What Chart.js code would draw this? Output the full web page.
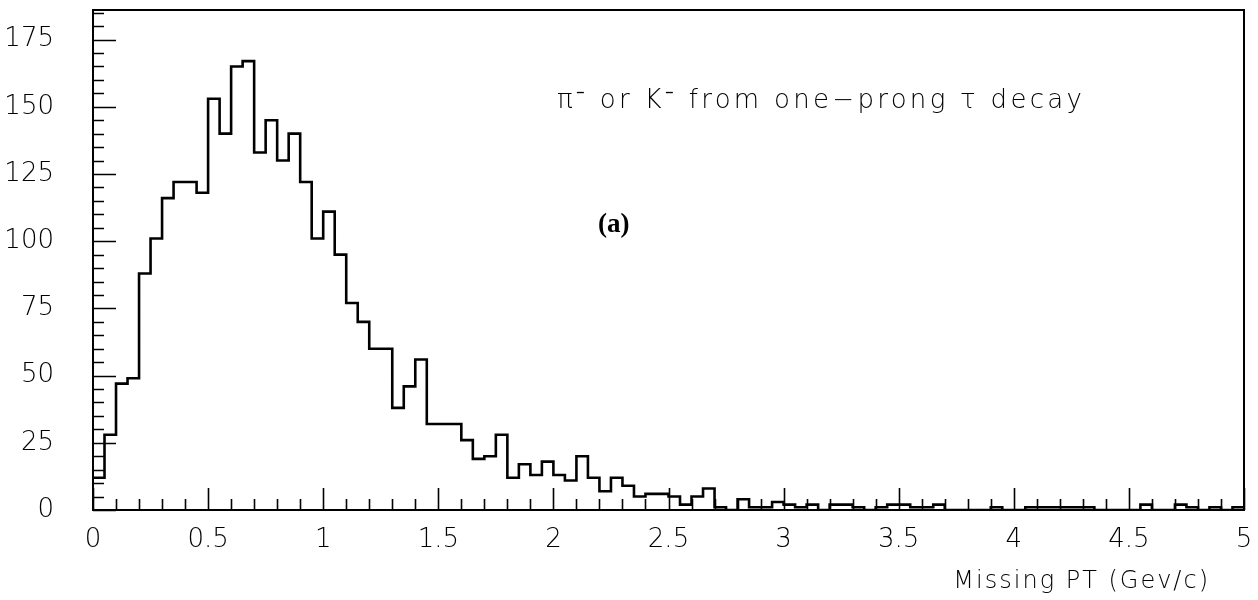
<!DOCTYPE html>
<html>
<head>
<meta charset="utf-8">
<script src="https://cdn.jsdelivr.net/npm/chart.js@4.4.1/dist/chart.umd.min.js"></script>
<style>
  html, body { margin: 0; padding: 0; background: #fff; }
  #wrap { width: 1258px; height: 600px; }
</style>
</head>
<body>
<div id="wrap"><canvas id="c" width="1258" height="600"></canvas></div>
<script>
// Missing transverse momentum, 0.05 GeV/c bins from 0 to 5
const binLow = 0;
const binWidth = 0.05;
const counts = [
  12, 28, 47, 49, 88, 101, 116, 122, 122, 118,
  153, 140, 165, 167, 133, 145, 130, 140, 122, 101,
  111, 95, 77, 70, 60, 60, 38, 46, 56, 32,
  32, 32, 26, 19, 20, 28, 12, 17, 13, 18,
  13, 11, 20, 12, 7, 12, 9, 5, 6, 6,
  5, 2, 5, 8, 1, 0, 4, 1, 1, 3,
  2, 1, 2, 0, 2, 2, 1, 0, 1, 2,
  2, 1, 1, 2, 0, 0, 0, 0, 1, 0,
  0, 1, 1, 1, 1, 1, 1, 0, 0, 0,
  0, 2, 0, 0, 2, 1, 0, 1, 0, 1
];
const xTickLabels = [0, 0.5, 1, 1.5, 2, 2.5, 3, 3.5, 4, 4.5, 5];
const yTickLabels = [0, 25, 50, 75, 100, 125, 150, 175];
const xMinorStep = 0.1;
const yMinorStep = 5;

const titleText = 'π\u207B or K\u207B from one\u2212prong τ decay';
const panelText = '(a)';
const axisText = 'Missing PT (Gev/c)';

// step outline: left edge of every bin, then the closing right edge
const points = counts.map((v, i) => ({ x: binLow + i * binWidth, y: v }));
points.push({ x: binLow + counts.length * binWidth, y: counts[counts.length - 1] });

const labelFont = { family: 'DejaVu Sans', size: 26, weight: '200', lineHeight: 1 };

// frame, inward tick marks and the text annotations
const frameAndTicks = {
  id: 'frameAndTicks',
  afterDatasetsDraw(chart) {
    const { ctx, chartArea: a, scales: { x, y } } = chart;
    ctx.save();
    ctx.strokeStyle = '#000';
    ctx.lineWidth = 1.6;
    ctx.beginPath();
    // x ticks along the bottom edge
    const nx = Math.round((x.max - x.min) / xMinorStep);
    for (let i = 0; i <= nx; i++) {
      const v = x.min + i * xMinorStep;
      const major = xTickLabels.some(t => Math.abs(t - v) < 1e-6);
      const px = Math.round(x.getPixelForValue(v)) + 0.5;
      ctx.moveTo(px, a.bottom);
      ctx.lineTo(px, a.bottom - (major ? 22 : 11));
    }
    // y ticks along the left edge
    for (let v = 0; v <= y.max; v += yMinorStep) {
      const major = yTickLabels.includes(v);
      const py = Math.round(y.getPixelForValue(v)) + 0.5;
      ctx.moveTo(a.left, py);
      ctx.lineTo(a.left + (major ? 23 : 11), py);
    }
    ctx.stroke();

    ctx.lineWidth = 2;
    ctx.strokeRect(a.left, a.top, a.right - a.left, a.bottom - a.top);

    ctx.fillStyle = '#000';
    ctx.textBaseline = 'alphabetic';
    ctx.textAlign = 'left';
    ctx.font = '200 26px "DejaVu Sans"';
    ctx.letterSpacing = '3.3px';
    ctx.fillText(titleText, a.left + 464, a.top + 98);

    ctx.letterSpacing = '0px';
    ctx.font = 'bold 27px "Liberation Serif"';
    ctx.fillText(panelText, a.left + 505, a.top + 222);

    ctx.textAlign = 'right';
    ctx.font = '200 24px "DejaVu Sans"';
    ctx.letterSpacing = '2px';
    ctx.fillText(axisText, a.right - 34, a.bottom + 78);
    ctx.restore();
  }
};

new Chart(document.getElementById('c'), {
  type: 'line',
  data: {
    datasets: [{
      data: points,
      stepped: 'before',
      borderColor: '#000',
      borderWidth: 2.6,
      pointRadius: 0,
      fill: false
    }]
  },
  options: {
    responsive: false,
    animation: false,
    layout: { padding: { top: 10, right: 14, left: 0, bottom: 0 } },
    plugins: { legend: { display: false }, tooltip: { enabled: false } },
    scales: {
      x: {
        type: 'linear',
        min: 0,
        max: 5,
        afterBuildTicks: s => { s.ticks = xTickLabels.map(v => ({ value: v })); },
        afterFit: s => { s.height = 90; s.paddingLeft = 0; s.paddingRight = 0; },
        grid: { display: false },
        border: { display: false },
        ticks: {
          color: '#000',
          font: labelFont,
          padding: 9,
          maxRotation: 0,
          autoSkip: false,
          callback: v => String(v)
        }
      },
      y: {
        type: 'linear',
        min: 0,
        max: 186,
        afterBuildTicks: s => { s.ticks = yTickLabels.map(v => ({ value: v })); },
        afterFit: s => { s.width = 93; s.paddingTop = 0; s.paddingBottom = 0; },
        grid: { display: false },
        border: { display: false },
        ticks: {
          color: '#000',
          font: labelFont,
          padding: 31,
          callback: v => String(v)
        }
      }
    }
  },
  plugins: [frameAndTicks]
});
</script>
</body>
</html>
